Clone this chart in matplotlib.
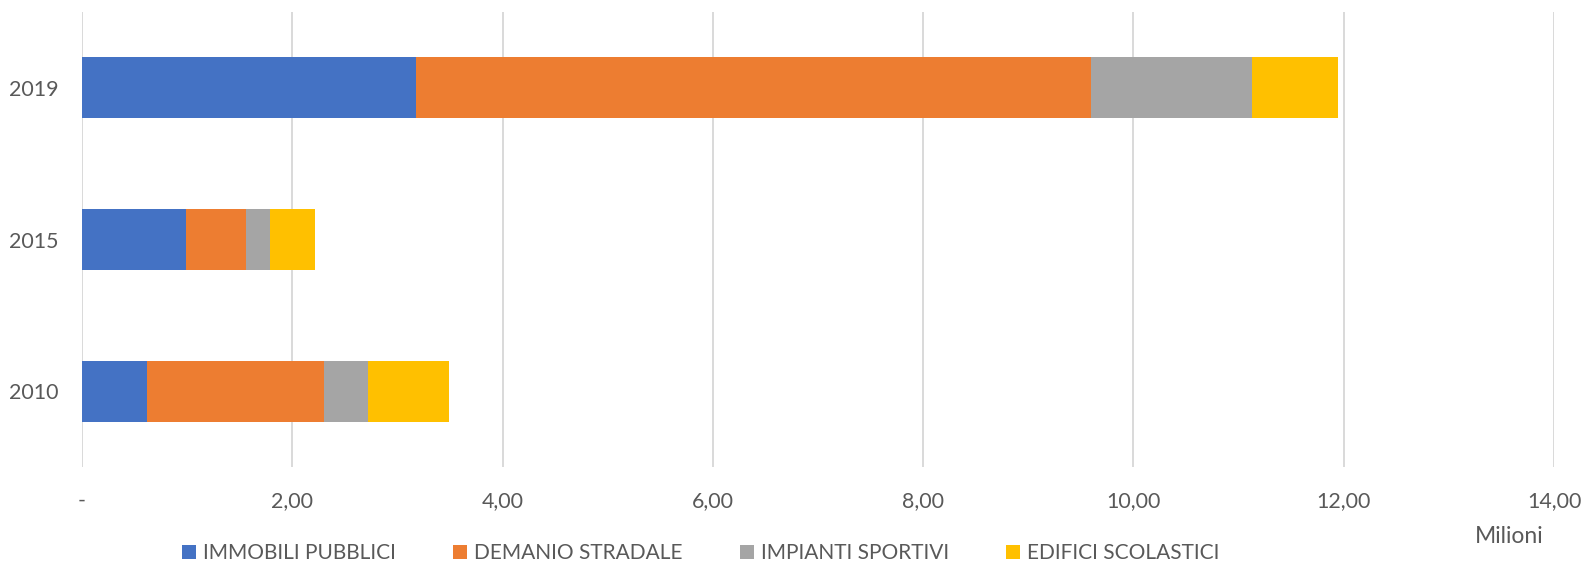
import matplotlib
matplotlib.use("Agg")
import matplotlib.pyplot as plt
from matplotlib.ticker import FuncFormatter, MultipleLocator

years = ["2010", "2015", "2019"]
series_names = ["IMMOBILI PUBBLICI", "DEMANIO STRADALE", "IMPIANTI SPORTIVI", "EDIFICI SCOLASTICI"]
immobili = [0.62, 0.99, 3.18]
demanio = [1.68, 0.57, 6.42]
impianti = [0.42, 0.23, 1.53]
edifici = [0.77, 0.43, 0.82]
colors = ["#4472C4", "#ED7D31", "#A5A5A5", "#FFC000"]

plt.rcParams['font.family'] = ['Lato', 'DejaVu Sans']
W, H = 1589, 563
fig = plt.figure(figsize=(W / 100, H / 100), dpi=100)
ax = fig.add_axes([82 / W, 1 - 467 / H, (1554 - 82) / W, (467 - 12) / H])

data = [immobili, demanio, impianti, edifici]
ypos = list(range(len(years)))
left = [0.0] * len(years)
handles = []
for name, vals, c in zip(series_names, data, colors):
    b = ax.barh(ypos, vals, left=left, height=0.4, color=c, label=name, zorder=3)
    handles.append(b)
    left = [l + v for l, v in zip(left, vals)]

ax.set_xlim(0, 14)
ax.set_ylim(-0.5, 2.5)
ax.xaxis.set_major_locator(MultipleLocator(2))
ax.xaxis.set_major_formatter(FuncFormatter(lambda v, p: "-" if abs(v) < 1e-9 else f"{v:.2f}".replace(".", ",")))
ax.set_yticks(ypos)
ax.set_yticklabels(years)
ax.grid(axis="x", color="#D9D9D9", linewidth=1.4, zorder=0)
for s in ax.spines.values():
    s.set_visible(False)
ax.tick_params(axis="both", length=0, colors="#595959", labelsize=15.4)
ax.tick_params(axis="x", pad=17)
ax.tick_params(axis="y", pad=17)

fig.text(1509 / W, 1 - 543 / H, "Milioni", ha="center", va="baseline", fontsize=16.5, color="#595959")

leg = fig.legend(handles=handles, labels=series_names, loc="center", ncol=4,
                 bbox_to_anchor=(701 / W, 1 - 553 / H), frameon=False,
                 fontsize=15.0, handlelength=0.65, handleheight=0.65,
                 handletextpad=0.35, columnspacing=2.75, borderaxespad=0)
for t in leg.get_texts():
    t.set_color("#595959")

fig.savefig("out.png", dpi=100)
